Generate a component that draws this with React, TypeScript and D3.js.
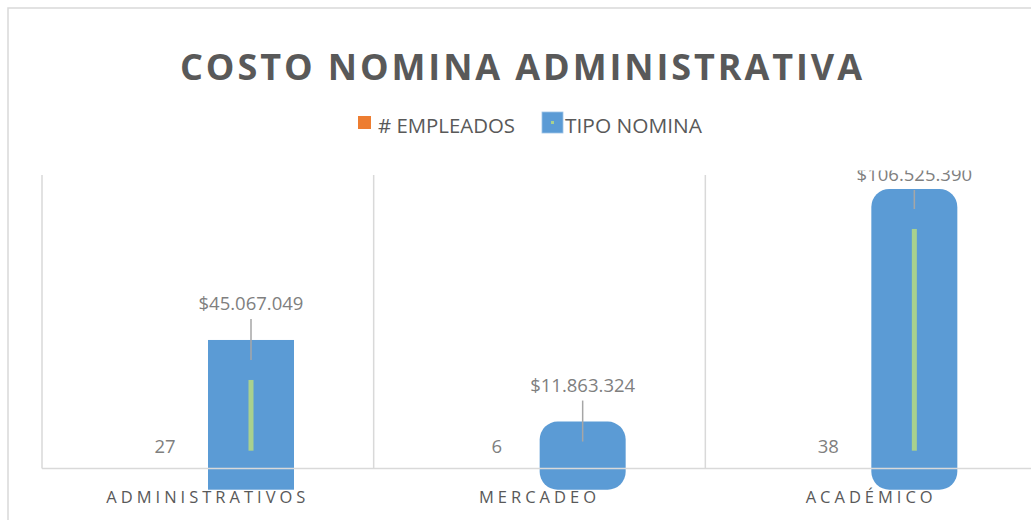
import React from 'react';
import * as d3 from 'd3';

// ---- data ----
const categories = ['ADMINISTRATIVOS', 'MERCADEO', 'ACADÉMICO'];
const seriesNames = ['# EMPLEADOS', 'TIPO NOMINA'];
const empleados = [27, 6, 38];
const tipoNomina = [45067049, 11863324, 106525390];
const chartTitle = 'COSTO NOMINA ADMINISTRATIVA';

// ---- styles ----
const BLUE = '#5B9BD5';
const ORANGE = '#ED7D31';
const GREEN = '#A9D18E';
const GRID = '#D9D9D9';
const DARK = '#595959';
const LABEL = '#7F7F7F';
const FONT = "'Open Sans', 'Liberation Sans', sans-serif";
const barCorner = [0, 18, 18];

const W = 1031;
const H = 520;
const plotLeft = 42;
const plotRight = 1037;
const plotTop = 175;
const axisY = 468.5;
const zeroY = 450.7;

const locale = d3.formatLocale({ decimal: ',', thousands: '.', grouping: [3], currency: ['$', ''] });
const fmtMoney = locale.format('$,.0f');

export default function App() {
  const x = d3.scaleBand<string>().domain(categories).range([plotLeft, plotRight]).padding(0);
  const xs = d3.scaleBand<string>().domain(seriesNames).range([80, 252]).padding(0);
  const y = d3.scaleLinear().domain([0, 100e6]).range([zeroY, 205]);
  const bw = xs.bandwidth();
  const gridXs = [...categories.map((c) => x(c) as number), plotRight];

  return (
    <svg width={W} height={H} style={{ position: 'absolute', left: 0, top: 0, background: '#fff' }}>
      <defs>
        <clipPath id="plotClip">
          <rect x={0} y={170.5} width={W} height={H - 170.5} />
        </clipPath>
      </defs>
      {/* chart border */}
      <rect x={8} y={8} width={W + 20} height={H + 20} fill="#fff" stroke={GRID} strokeWidth={1.5} />

      {/* title */}
      <text
        x={180}
        y={80}
        fontFamily={FONT}
        fontWeight={700}
        fontSize={36}
        fill={DARK}
        textLength={682}
        lengthAdjust="spacing"
      >
        {chartTitle}
      </text>

      {/* legend */}
      <rect x={358} y={116} width={13} height={13} fill={ORANGE} />
      <text x={378} y={133} fontFamily={FONT} fontSize={20.5} fill={DARK} textLength={137} lengthAdjust="spacingAndGlyphs">
        {seriesNames[0]}
      </text>
      <rect x={542} y={112} width={21} height={21} fill={BLUE} stroke="#9DC3E6" strokeWidth={0.8} />
      <rect x={551} y={121} width={3} height={3} fill={GREEN} />
      <text x={565} y={133} fontFamily={FONT} fontSize={20.5} fill={DARK} textLength={137} lengthAdjust="spacingAndGlyphs">
        {seriesNames[1]}
      </text>

      {/* gridlines */}
      {gridXs.map((gx, i) => (
        <line key={i} x1={gx} x2={gx} y1={plotTop} y2={axisY} stroke={GRID} strokeWidth={1.5} />
      ))}

      <g clipPath="url(#plotClip)">
        {/* orange bars (tiny) */}
        {categories.map((c, i) => {
          const top = y(empleados[i]);
          return (
            <rect
              key={'o' + c}
              x={(x(c) as number) + (xs(seriesNames[0]) as number)}
              y={top}
              width={bw}
              height={Math.max(0, zeroY - top)}
              fill={ORANGE}
            />
          );
        })}
        {/* blue bars */}
        {categories.map((c, i) => {
          const top = y(tipoNomina[i]);
          return (
            <rect
              key={'b' + c}
              x={(x(c) as number) + (xs(seriesNames[1]) as number)}
              y={top}
              width={bw}
              height={zeroY + 39 - top}
              rx={barCorner[i]}
              ry={barCorner[i]}
              fill={BLUE}
            />
          );
        })}
        {/* green inner lines */}
        {categories.map((c, i) => {
          const top = y(tipoNomina[i]) + 40;
          if (top >= zeroY) return null;
          const cx = (x(c) as number) + (xs(seriesNames[1]) as number) + bw / 2;
          return <rect key={'g' + c} x={cx - 2.5} y={top} width={5} height={zeroY - top} fill={GREEN} />;
        })}
        {/* axis line */}
        <line x1={plotLeft} x2={W} y1={axisY} y2={axisY} stroke={GRID} strokeWidth={1.5} />
        {/* value labels with leader lines */}
        {categories.map((c, i) => {
          const top = y(tipoNomina[i]);
          const cx = (x(c) as number) + (xs(seriesNames[1]) as number) + bw / 2;
          const base = Math.max(top - 30, 181);
          return (
            <g key={'l' + c}>
              <line x1={cx} x2={cx} y1={base + 9} y2={top + 20} stroke="#A6A6A6" strokeWidth={1.5} />
              <text x={cx} y={base} textAnchor="middle" fontFamily={FONT} fontSize={18.5} fill={LABEL}>
                {fmtMoney(tipoNomina[i])}
              </text>
            </g>
          );
        })}
        {/* employee labels */}
        {categories.map((c, i) => {
          const cx = (x(c) as number) + (xs(seriesNames[0]) as number) + bw / 2;
          return (
            <text key={'e' + c} x={cx} y={zeroY + 2.5} textAnchor="middle" fontFamily={FONT} fontSize={18.5} fill={LABEL}>
              {empleados[i]}
            </text>
          );
        })}
      </g>

      {/* category labels */}
      {categories.map((c) => (
        <text
          key={'c' + c}
          x={(x(c) as number) + x.bandwidth() / 2}
          y={503}
          textAnchor="middle"
          fontFamily={FONT}
          fontSize={16.5}
          letterSpacing={4}
          fill={DARK}
        >
          {c}
        </text>
      ))}
    </svg>
  );
}
